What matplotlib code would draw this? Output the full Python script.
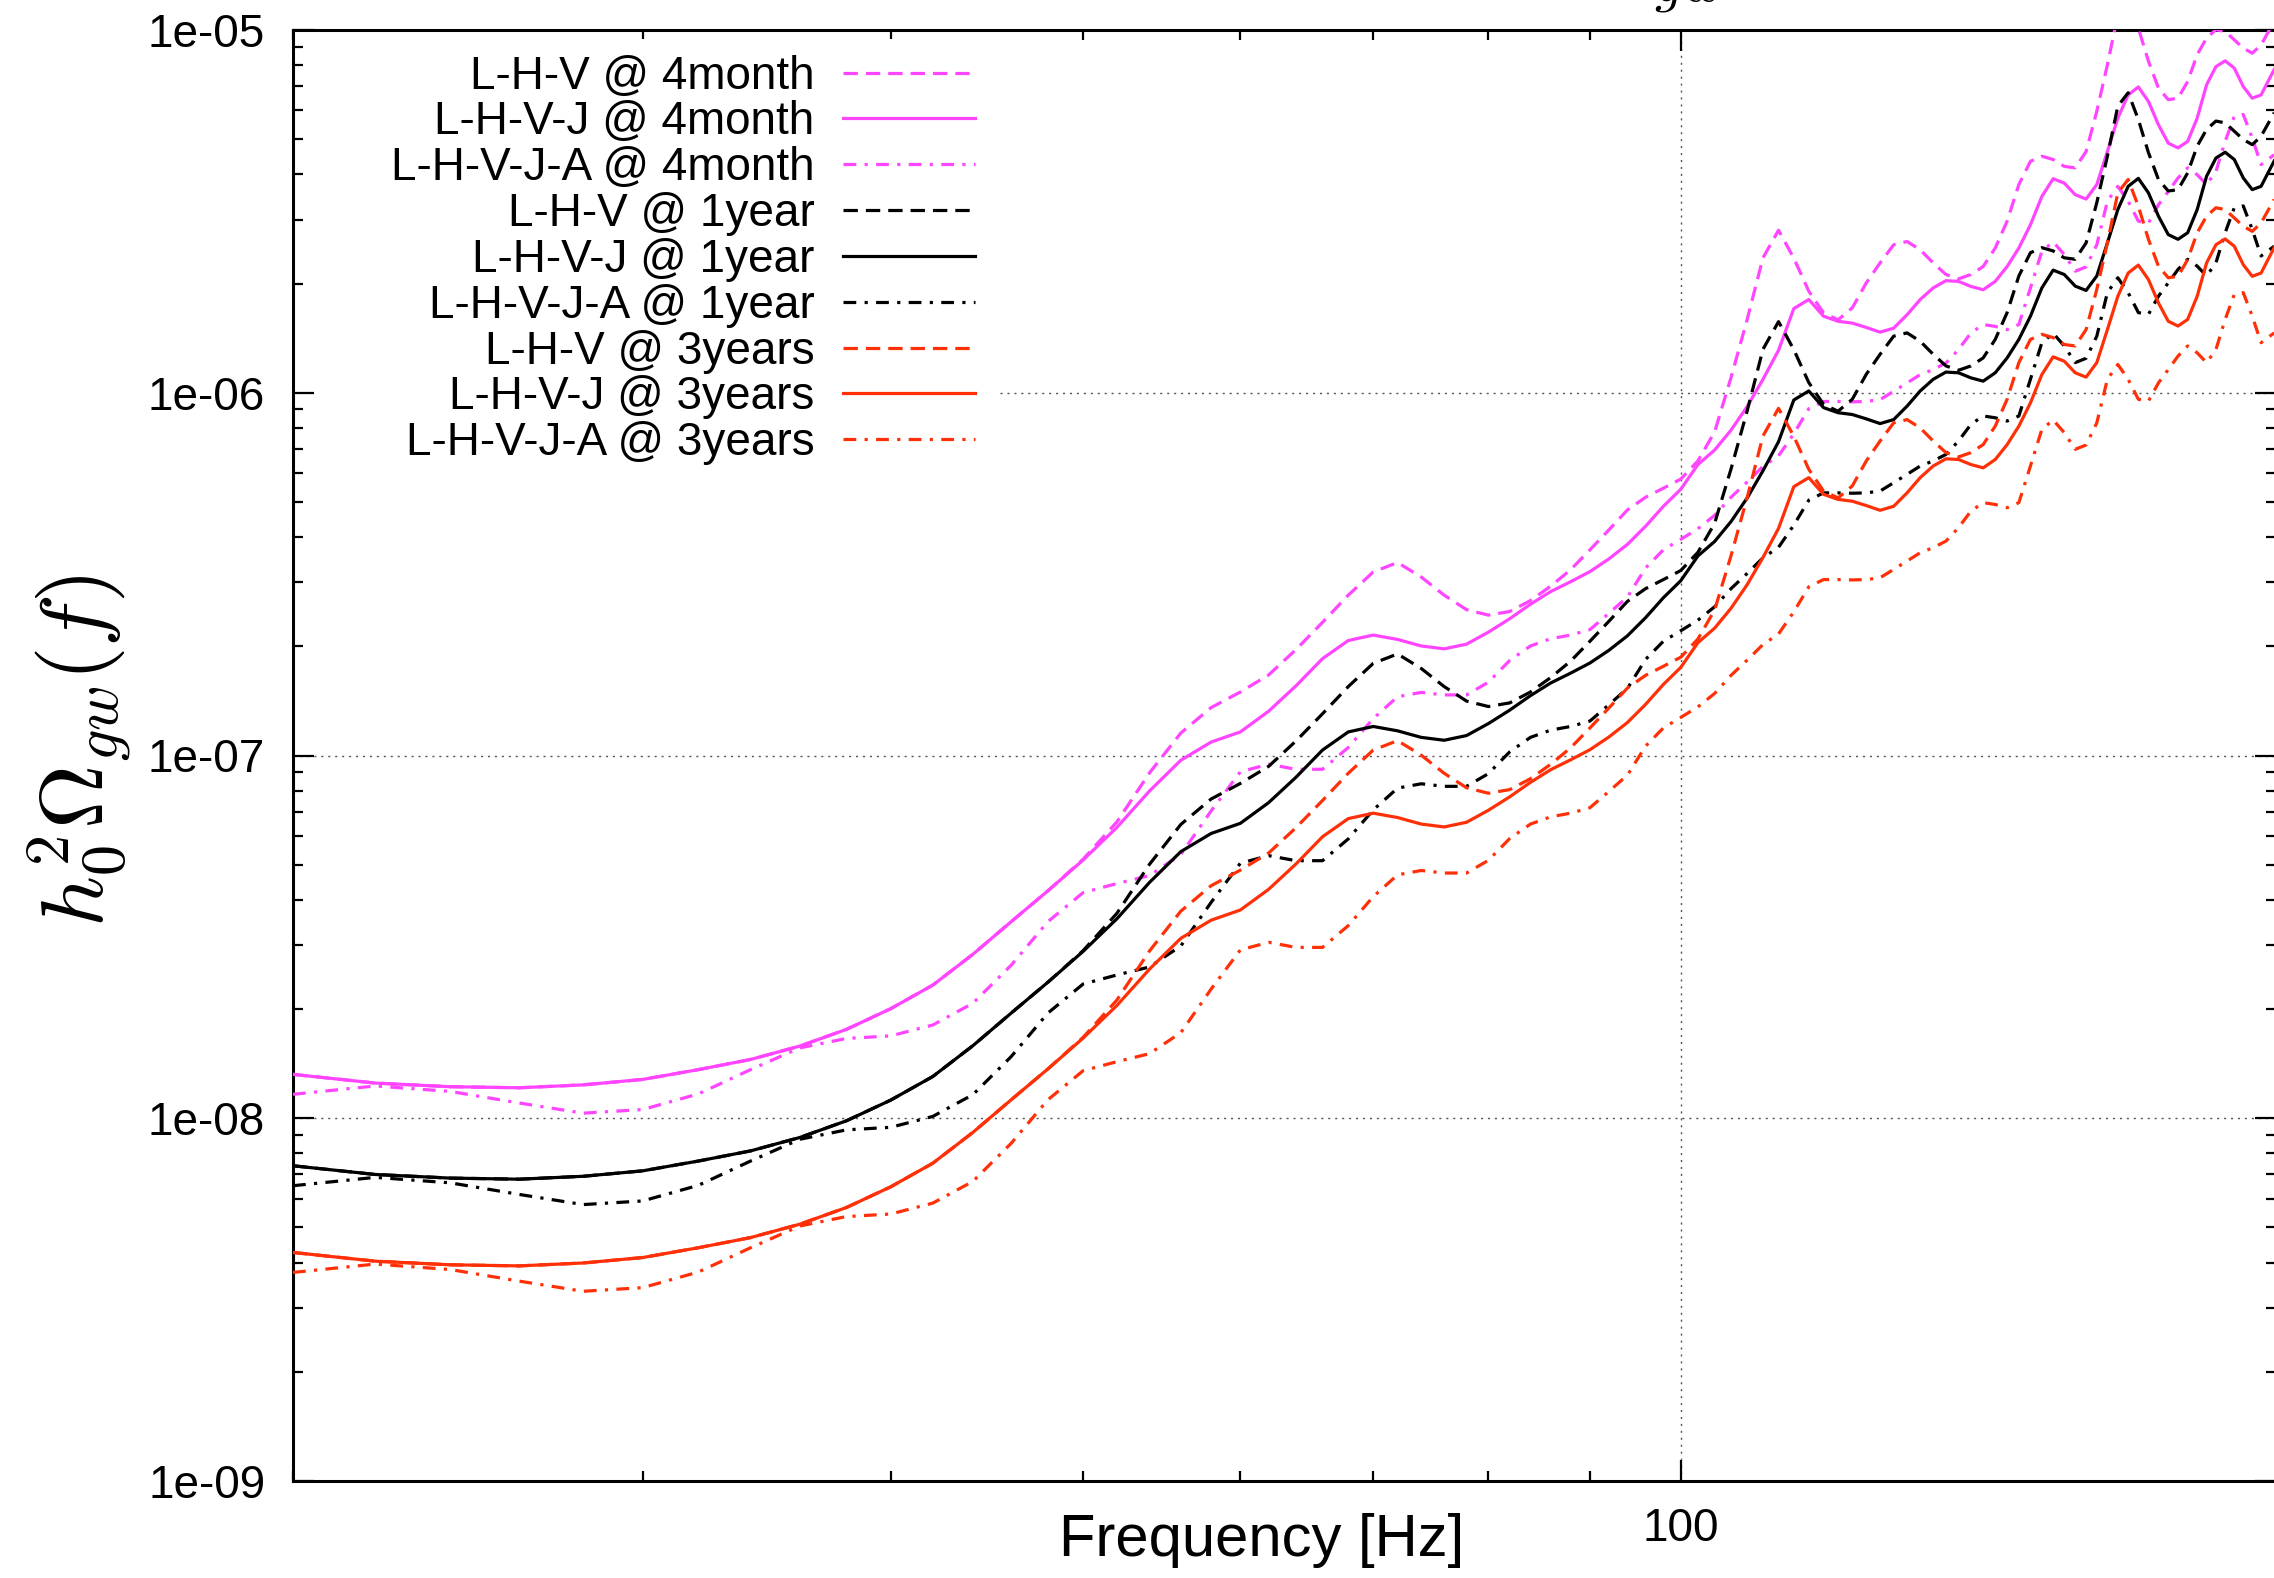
import numpy as np
import matplotlib
matplotlib.use("Agg")
import matplotlib.pyplot as plt
from matplotlib.ticker import LogLocator, FixedLocator, NullFormatter, FuncFormatter

plt.rcParams['font.family'] = ['Liberation Sans', 'DejaVu Sans']
plt.rcParams['mathtext.fontset'] = 'cm'

# ---------------- data ----------------
freq_hz = [20, 22, 24, 26, 28, 30, 32, 34, 36, 38, 40, 42, 44, 46, 48, 50,
           52, 54, 56, 58, 60, 62, 64, 66, 68, 70, 72, 74, 76, 78, 80, 82, 84,
           86, 88, 90, 92, 94, 96, 98, 100, 102, 104, 106, 108, 110, 112, 114,
           116, 118, 120, 122, 124, 126, 128, 130, 132, 134, 136, 138, 140, 142,
           144, 146, 148, 150, 152, 154, 156, 158, 160, 162, 164, 166, 168, 170,
           172, 174, 176, 178, 180, 182, 184, 186, 188, 190, 192, 194, 196, 199]

# log10 of h0^2 Omega_gw
log10_lhv_4month = [
    -7.879, -7.903, -7.913, -7.916, -7.908, -7.893, -7.866, -7.838, -7.801, -7.755,
    -7.698, -7.633, -7.548, -7.458, -7.373, -7.286, -7.183, -7.048, -6.938, -6.868,
    -6.825, -6.778, -6.708, -6.633, -6.558, -6.494, -6.468, -6.508, -6.558, -6.598,
    -6.613, -6.603, -6.573, -6.533, -6.488, -6.433, -6.378, -6.323, -6.288, -6.263,
    -6.238, -6.188, -6.108, -5.958, -5.798, -5.628, -5.552, -5.629, -5.720, -5.780,
    -5.799, -5.766, -5.697, -5.642, -5.592, -5.583, -5.606, -5.642, -5.674, -5.686,
    -5.674, -5.652, -5.601, -5.527, -5.426, -5.362, -5.348, -5.357, -5.376, -5.380,
    -5.335, -5.224, -5.096, -4.958, -4.921, -4.995, -5.086, -5.160, -5.192, -5.188,
    -5.142, -5.068, -5.022, -4.999, -5.004, -5.027, -5.050, -5.064, -5.041, -4.976]
log10_lhvj_4month = [
    -7.879, -7.903, -7.913, -7.916, -7.908, -7.893, -7.866, -7.838, -7.801, -7.755,
    -7.698, -7.633, -7.548, -7.458, -7.373, -7.288, -7.198, -7.098, -7.013, -6.963,
    -6.935, -6.878, -6.808, -6.733, -6.683, -6.668, -6.680, -6.698, -6.706, -6.693,
    -6.660, -6.623, -6.583, -6.548, -6.521, -6.493, -6.458, -6.418, -6.368, -6.313,
    -6.266, -6.198, -6.158, -6.103, -6.038, -5.963, -5.883, -5.768, -5.743, -5.789,
    -5.803, -5.808, -5.820, -5.833, -5.822, -5.785, -5.743, -5.711, -5.691, -5.693,
    -5.707, -5.716, -5.693, -5.652, -5.601, -5.537, -5.459, -5.410, -5.422, -5.454,
    -5.466, -5.426, -5.335, -5.243, -5.179, -5.157, -5.197, -5.261, -5.312, -5.325,
    -5.307, -5.243, -5.151, -5.101, -5.085, -5.105, -5.156, -5.188, -5.179, -5.109]
log10_lhvja_4month = [
    -7.934, -7.911, -7.926, -7.958, -7.986, -7.976, -7.933, -7.866, -7.806, -7.780,
    -7.773, -7.743, -7.683, -7.578, -7.458, -7.378, -7.353, -7.331, -7.273, -7.153,
    -7.045, -7.024, -7.038, -7.038, -6.978, -6.898, -6.838, -6.826, -6.833, -6.833,
    -6.798, -6.738, -6.698, -6.678, -6.668, -6.653, -6.608, -6.563, -6.483, -6.433,
    -6.404, -6.375, -6.338, -6.288, -6.246, -6.203, -6.174, -6.113, -6.044, -6.024,
    -6.024, -6.025, -6.024, -6.019, -5.996, -5.973, -5.950, -5.936, -5.918, -5.881,
    -5.835, -5.812, -5.817, -5.826, -5.812, -5.711, -5.610, -5.584, -5.619, -5.665,
    -5.653, -5.592, -5.472, -5.431, -5.472, -5.527, -5.532, -5.482, -5.445, -5.408,
    -5.380, -5.399, -5.426, -5.390, -5.307, -5.238, -5.233, -5.298, -5.371, -5.344]
log10_lhv_1year = [
    -8.131, -8.155, -8.165, -8.168, -8.160, -8.145, -8.118, -8.090, -8.053, -8.007,
    -7.950, -7.885, -7.800, -7.710, -7.625, -7.538, -7.435, -7.300, -7.190, -7.120,
    -7.077, -7.030, -6.960, -6.885, -6.810, -6.746, -6.720, -6.760, -6.810, -6.850,
    -6.865, -6.855, -6.825, -6.785, -6.740, -6.685, -6.630, -6.575, -6.540, -6.515,
    -6.490, -6.440, -6.360, -6.210, -6.050, -5.880, -5.804, -5.881, -5.972, -6.032,
    -6.051, -6.018, -5.949, -5.894, -5.844, -5.835, -5.858, -5.894, -5.926, -5.938,
    -5.926, -5.904, -5.853, -5.779, -5.678, -5.614, -5.600, -5.609, -5.628, -5.632,
    -5.587, -5.476, -5.348, -5.210, -5.173, -5.247, -5.338, -5.412, -5.444, -5.440,
    -5.394, -5.320, -5.274, -5.251, -5.256, -5.279, -5.302, -5.316, -5.293, -5.228]
log10_lhvj_1year = [
    -8.131, -8.155, -8.165, -8.168, -8.160, -8.145, -8.118, -8.090, -8.053, -8.007,
    -7.950, -7.885, -7.800, -7.710, -7.625, -7.540, -7.450, -7.350, -7.265, -7.215,
    -7.187, -7.130, -7.060, -6.985, -6.935, -6.920, -6.932, -6.950, -6.958, -6.945,
    -6.912, -6.875, -6.835, -6.800, -6.773, -6.745, -6.710, -6.670, -6.620, -6.565,
    -6.518, -6.450, -6.410, -6.355, -6.290, -6.215, -6.135, -6.020, -5.995, -6.041,
    -6.055, -6.060, -6.072, -6.085, -6.074, -6.037, -5.995, -5.963, -5.943, -5.945,
    -5.959, -5.968, -5.945, -5.904, -5.853, -5.789, -5.711, -5.662, -5.674, -5.706,
    -5.718, -5.678, -5.587, -5.495, -5.431, -5.409, -5.449, -5.513, -5.564, -5.577,
    -5.559, -5.495, -5.403, -5.353, -5.337, -5.357, -5.408, -5.440, -5.431, -5.361]
log10_lhvja_1year = [
    -8.186, -8.163, -8.178, -8.210, -8.238, -8.228, -8.185, -8.118, -8.058, -8.032,
    -8.025, -7.995, -7.935, -7.830, -7.710, -7.630, -7.605, -7.583, -7.525, -7.405,
    -7.297, -7.276, -7.290, -7.290, -7.230, -7.150, -7.090, -7.078, -7.085, -7.085,
    -7.050, -6.990, -6.950, -6.930, -6.920, -6.905, -6.860, -6.815, -6.735, -6.685,
    -6.656, -6.627, -6.590, -6.540, -6.498, -6.455, -6.426, -6.365, -6.296, -6.276,
    -6.276, -6.277, -6.276, -6.271, -6.248, -6.225, -6.202, -6.188, -6.170, -6.133,
    -6.087, -6.064, -6.069, -6.078, -6.064, -5.963, -5.862, -5.836, -5.871, -5.917,
    -5.905, -5.844, -5.724, -5.683, -5.724, -5.779, -5.784, -5.734, -5.697, -5.660,
    -5.632, -5.651, -5.678, -5.642, -5.559, -5.490, -5.485, -5.550, -5.623, -5.596]
log10_lhv_3years = [
    -8.370, -8.394, -8.404, -8.407, -8.399, -8.384, -8.357, -8.329, -8.292, -8.246,
    -8.189, -8.124, -8.039, -7.949, -7.864, -7.777, -7.674, -7.539, -7.429, -7.359,
    -7.316, -7.269, -7.199, -7.124, -7.049, -6.985, -6.959, -6.999, -7.049, -7.089,
    -7.104, -7.094, -7.064, -7.024, -6.979, -6.924, -6.869, -6.814, -6.779, -6.754,
    -6.729, -6.679, -6.599, -6.449, -6.289, -6.119, -6.043, -6.120, -6.211, -6.271,
    -6.290, -6.257, -6.188, -6.133, -6.083, -6.074, -6.097, -6.133, -6.165, -6.177,
    -6.165, -6.143, -6.092, -6.018, -5.917, -5.853, -5.839, -5.848, -5.867, -5.871,
    -5.826, -5.715, -5.587, -5.449, -5.412, -5.486, -5.577, -5.651, -5.683, -5.679,
    -5.633, -5.559, -5.513, -5.490, -5.495, -5.518, -5.541, -5.555, -5.532, -5.467]
log10_lhvj_3years = [
    -8.370, -8.394, -8.404, -8.407, -8.399, -8.384, -8.357, -8.329, -8.292, -8.246,
    -8.189, -8.124, -8.039, -7.949, -7.864, -7.779, -7.689, -7.589, -7.504, -7.454,
    -7.426, -7.369, -7.299, -7.224, -7.174, -7.159, -7.171, -7.189, -7.197, -7.184,
    -7.151, -7.114, -7.074, -7.039, -7.012, -6.984, -6.949, -6.909, -6.859, -6.804,
    -6.757, -6.689, -6.649, -6.594, -6.529, -6.454, -6.374, -6.259, -6.234, -6.280,
    -6.294, -6.299, -6.311, -6.324, -6.313, -6.276, -6.234, -6.202, -6.182, -6.184,
    -6.198, -6.207, -6.184, -6.143, -6.092, -6.028, -5.950, -5.901, -5.913, -5.945,
    -5.957, -5.917, -5.826, -5.734, -5.670, -5.648, -5.688, -5.752, -5.803, -5.816,
    -5.798, -5.734, -5.642, -5.592, -5.576, -5.596, -5.647, -5.679, -5.670, -5.600]
log10_lhvja_3years = [
    -8.425, -8.402, -8.417, -8.449, -8.477, -8.467, -8.424, -8.357, -8.297, -8.271,
    -8.264, -8.234, -8.174, -8.069, -7.949, -7.869, -7.844, -7.822, -7.764, -7.644,
    -7.536, -7.515, -7.529, -7.529, -7.469, -7.389, -7.329, -7.317, -7.324, -7.324,
    -7.289, -7.229, -7.189, -7.169, -7.159, -7.144, -7.099, -7.054, -6.974, -6.924,
    -6.895, -6.866, -6.829, -6.779, -6.737, -6.694, -6.665, -6.604, -6.535, -6.515,
    -6.515, -6.516, -6.515, -6.510, -6.487, -6.464, -6.441, -6.427, -6.409, -6.372,
    -6.326, -6.303, -6.308, -6.317, -6.303, -6.202, -6.101, -6.075, -6.110, -6.156,
    -6.144, -6.083, -5.963, -5.922, -5.963, -6.018, -6.023, -5.973, -5.936, -5.899,
    -5.871, -5.890, -5.917, -5.881, -5.798, -5.729, -5.724, -5.789, -5.862, -5.835]

series_labels = ["L-H-V @ 4month", "L-H-V-J @ 4month", "L-H-V-J-A @ 4month",
                 "L-H-V @ 1year", "L-H-V-J @ 1year", "L-H-V-J-A @ 1year",
                 "L-H-V @ 3years", "L-H-V-J @ 3years", "L-H-V-J-A @ 3years"]
series_data = [log10_lhv_4month, log10_lhvj_4month, log10_lhvja_4month,
               log10_lhv_1year, log10_lhvj_1year, log10_lhvja_1year,
               log10_lhv_3years, log10_lhvj_3years, log10_lhvja_3years]

# ---------------- styles ----------------
MAGENTA = '#ff45ff'
BLACK = '#000000'
RED = '#ff3008'
colors = [MAGENTA] * 3 + [BLACK] * 3 + [RED] * 3
DASH = (0, (4.5, 2.5))
SOLID = '-'
DASHDOT = (0, (4.0, 2.6, 1.0, 2.6))
styles = [DASH, SOLID, DASHDOT] * 3

W, H = 2274, 1578
fig = plt.figure(figsize=(W / 100, H / 100), dpi=100)
L, R, T, B = 293, 2276, 30, 1481
ax = fig.add_axes([L / W, 1 - B / H, (R - L) / W, (B - T) / H])
ax.set_xscale('log')
ax.set_yscale('log')

f = np.array(freq_hz, dtype=float)
for lab, data, c, ls in zip(series_labels, series_data, colors, styles):
    ax.plot(f, 10 ** np.array(data), color=c, linestyle=ls, linewidth=2.3,
            label=lab, solid_joinstyle='round', dash_joinstyle='round',
            zorder=3)

xmax = 20 * 10 ** ((R - L) / 1985.5)
ax.set_xlim(20, xmax)
ax.set_ylim(1e-9, 1e-5)

# ticks
ax.xaxis.set_major_locator(FixedLocator([100]))
ax.xaxis.set_major_formatter(FuncFormatter(lambda v, p: '%d' % round(v)))
ax.xaxis.set_minor_locator(LogLocator(base=10, subs=np.arange(2, 10), numticks=20))
ax.xaxis.set_minor_formatter(NullFormatter())
ax.yaxis.set_major_locator(LogLocator(base=10, numticks=20))
ax.yaxis.set_major_formatter(FuncFormatter(lambda v, p: '%.0e' % v))
ax.yaxis.set_minor_locator(LogLocator(base=10, subs=np.arange(2, 10), numticks=20))
ax.yaxis.set_minor_formatter(NullFormatter())

ax.tick_params(which='major', direction='in', length=15, width=1.6,
               top=True, right=True, labelsize=33, pad=20)
ax.tick_params(axis='x', which='major', pad=19)
ax.tick_params(which='minor', direction='in', length=7.5, width=1.6,
               top=True, right=True)
for s in ax.spines.values():
    s.set_linewidth(2.2)

# dotted grid at the major ticks (the 1e-06 line is hidden behind the key)
grid_kw = dict(color='#555555', linestyle=(0, (1.5, 3.5)), linewidth=1.0,
               zorder=1)
ax.axvline(100, **grid_kw)
key_right = (1000 - L) / (R - L)
for gy, x0 in [(1e-8, 0.0), (1e-7, 0.0), (1e-6, key_right)]:
    ax.axhline(gy, xmin=x0, xmax=1.0, **grid_kw)

ax.set_xlabel('Frequency [Hz]', fontsize=43, va='center')
ax.xaxis.set_label_coords((1262 - L) / (R - L), (B - 1540) / (B - T))
ax.set_ylabel(r'$h_0^2\Omega_{gw}(f)$', fontsize=64, va='center')
ax.yaxis.set_label_coords((80 - L) / (R - L), (B - 751) / (B - T))

leg = ax.legend(loc='upper right', bbox_to_anchor=(991 / W, 1 - 38.5 / H),
                bbox_transform=fig.transFigure, markerfirst=False,
                fontsize=33, frameon=True, framealpha=1.0, fancybox=False,
                borderpad=0.35, labelspacing=0.04, handlelength=2.87,
                handletextpad=0.63, borderaxespad=0)
leg.get_frame().set_edgecolor('none')
leg.get_frame().set_facecolor('white')

# partially visible title (cut at the top edge of the image)
fig.text(1593 / W, 1 + 12 / H, r'$\Omega_{gw}$', fontsize=58, va='baseline',
         ha='left')

fig.savefig('out.png', dpi=100)
